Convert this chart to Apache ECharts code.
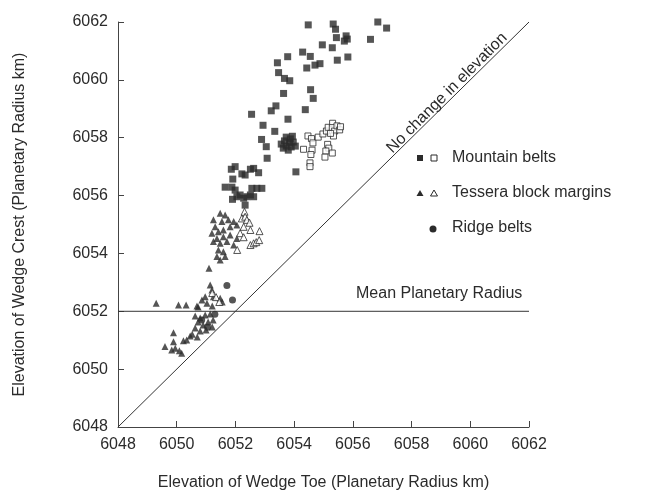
<!DOCTYPE html>
<html>
<head>
<meta charset="utf-8">
<script src="https://cdn.jsdelivr.net/npm/echarts@6/dist/echarts.min.js"></script>
<style>
  html, body { margin: 0; padding: 0; background: #fff; }
  #chart { width: 653px; height: 496px; }
</style>
</head>
<body>
<div id="chart"></div>
<script>
// axis ticks
var ticks = [6048, 6050, 6052, 6054, 6056, 6058, 6060, 6062];

// reference lines
var oneToOne = [[6048, 6048], [6062, 6062]];
var meanRadius = [[6048, 6052], [6062, 6052]];

// Mountain belts, filled squares [toe, crest]
var mountainFilled = [
    [6054.48, 6061.90], [6055.33, 6061.93], [6055.41, 6061.75], [6056.85, 6062.00],
    [6057.15, 6061.79], [6055.44, 6061.46], [6055.77, 6061.52], [6055.81, 6061.41],
    [6055.71, 6061.34], [6056.60, 6061.40], [6054.96, 6061.21], [6055.30, 6061.11],
    [6054.29, 6060.96], [6054.55, 6060.81], [6053.78, 6060.80], [6055.83, 6060.79],
    [6055.47, 6060.68], [6053.43, 6060.59], [6054.43, 6060.41], [6054.71, 6060.51],
    [6054.88, 6060.56], [6053.47, 6060.25], [6053.67, 6060.05], [6053.85, 6059.97],
    [6054.56, 6059.66], [6054.65, 6059.36], [6053.64, 6059.53], [6053.38, 6059.10],
    [6053.22, 6058.93], [6054.38, 6058.97], [6052.55, 6058.81], [6053.79, 6058.64],
    [6052.94, 6058.43], [6053.34, 6058.22], [6052.89, 6057.94], [6053.05, 6057.69],
    [6053.08, 6057.29], [6054.06, 6056.82],
    [6053.73, 6058.02], [6053.87, 6057.96], [6053.67, 6057.89], [6053.84, 6057.82],
    [6053.97, 6057.85], [6053.73, 6057.71], [6053.90, 6057.68], [6053.63, 6057.64],
    [6054.04, 6057.71], [6053.80, 6057.57], [6053.56, 6057.78], [6053.94, 6058.05],
    [6051.86, 6056.91], [6051.99, 6057.00], [6052.22, 6056.75], [6052.33, 6056.71],
    [6052.51, 6056.91], [6052.62, 6056.94], [6052.79, 6056.79], [6051.91, 6056.57],
    [6051.65, 6056.29], [6051.88, 6056.29], [6051.99, 6056.19], [6052.56, 6056.25],
    [6052.73, 6056.25], [6052.90, 6056.25], [6052.05, 6055.96], [6052.16, 6056.02],
    [6052.28, 6055.91], [6052.39, 6055.96], [6052.51, 6056.02], [6052.62, 6055.96],
    [6051.90, 6055.87], [6052.33, 6055.67]
];

// Mountain belts, open squares
var mountainOpen = [
    [6054.47, 6058.06], [6054.59, 6057.97], [6054.64, 6057.82], [6054.82, 6058.02],
    [6054.98, 6058.13], [6055.10, 6058.23], [6055.16, 6058.36], [6055.31, 6058.50],
    [6055.30, 6058.35], [6055.38, 6058.23], [6055.46, 6058.41], [6055.55, 6058.27],
    [6055.58, 6058.38], [6055.34, 6058.06], [6055.24, 6058.15], [6055.14, 6057.77],
    [6055.18, 6057.64], [6055.08, 6057.54], [6055.30, 6057.47], [6054.32, 6057.60],
    [6054.61, 6057.57], [6054.57, 6057.42], [6055.05, 6057.33], [6054.54, 6057.13],
    [6054.54, 6057.00]
];

// Tessera block margins, filled triangles
var tesseraFilled = [
    [6051.48, 6055.39], [6051.65, 6055.33], [6051.25, 6055.16], [6051.31, 6054.92],
    [6051.54, 6055.10], [6051.76, 6055.16], [6051.94, 6055.10], [6052.05, 6054.98],
    [6051.82, 6054.92], [6051.20, 6054.70], [6051.42, 6054.75], [6051.59, 6054.81],
    [6051.37, 6054.52], [6051.59, 6054.58], [6051.82, 6054.64], [6052.05, 6054.52],
    [6051.25, 6054.41], [6051.48, 6054.35], [6051.71, 6054.41], [6051.94, 6054.29],
    [6051.42, 6054.12], [6051.59, 6054.06], [6051.37, 6053.89], [6051.65, 6053.89],
    [6051.48, 6053.77], [6051.10, 6053.49], [6051.14, 6052.91], [6051.20, 6052.74],
    [6050.97, 6052.50], [6050.86, 6052.39], [6051.03, 6052.28], [6051.25, 6052.50],
    [6051.48, 6052.45], [6051.55, 6052.32], [6050.73, 6052.15], [6051.21, 6052.18],
    [6049.30, 6052.28], [6050.06, 6052.22], [6050.32, 6052.22], [6050.69, 6052.18],
    [6050.63, 6051.84], [6050.80, 6051.77], [6050.97, 6051.87], [6051.14, 6051.91],
    [6050.73, 6051.63], [6050.90, 6051.53], [6051.07, 6051.63], [6051.24, 6051.70],
    [6050.63, 6051.42], [6050.80, 6051.32], [6051.00, 6051.35], [6051.21, 6051.46],
    [6050.53, 6051.21], [6050.70, 6051.11], [6050.46, 6051.15], [6050.34, 6051.01],
    [6050.23, 6050.98], [6049.89, 6050.95], [6049.83, 6050.66], [6049.60, 6050.78],
    [6049.95, 6050.72], [6050.09, 6050.64], [6050.17, 6050.55], [6049.89, 6051.26]
];

// Tessera block margins, open triangles
var tesseraOpen = [
    [6052.31, 6055.44], [6052.22, 6055.21], [6052.33, 6055.27], [6052.39, 6055.16],
    [6052.48, 6055.06], [6052.28, 6054.92], [6052.51, 6054.81], [6052.82, 6054.77],
    [6052.16, 6054.70], [6052.28, 6054.56], [6052.51, 6054.29], [6052.62, 6054.35],
    [6052.71, 6054.39], [6052.81, 6054.46], [6052.06, 6054.12], [6051.21, 6052.63],
    [6051.34, 6052.49], [6051.45, 6052.32]
];

// Ridge belts, filled circles
var ridge = [
    [6051.71, 6052.89], [6051.90, 6052.39], [6050.85, 6051.70], [6051.05, 6051.45],
    [6051.30, 6051.90]
];

var ink = '#2b2b2b';
var font = 'Liberation Sans, Arial, Helvetica, sans-serif';

var myChart = echarts.init(document.getElementById('chart'));

function axis(name, gap) {
    return {
        type: 'value',
        min: ticks[0],
        max: ticks[ticks.length - 1],
        interval: 2,
        name: name,
        nameLocation: 'middle',
        nameGap: gap,
        nameTextStyle: { color: ink, fontSize: 16, fontFamily: font },
        axisLine: { show: true, lineStyle: { color: '#444', width: 1 } },
        axisTick: { show: true, inside: true, length: 6, lineStyle: { color: '#444' } },
        axisLabel: {
            color: ink, fontSize: 16, fontFamily: font, margin: 10,
            formatter: function (v) { return String(v); }
        },
        splitLine: { show: false }
    };
}

var option = {
    backgroundColor: '#fff',
    animation: false,
    grid: { left: 118, right: 124, top: 22, bottom: 69 },
    xAxis: axis('Elevation of Wedge Toe (Planetary Radius km)', 48),
    yAxis: axis('Elevation of Wedge Crest (Planetary Radius km)', 90),
    series: [
        {
            type: 'line', data: oneToOne, symbol: 'none', silent: true,
            lineStyle: { color: '#333', width: 1 }, z: 1
        },
        {
            type: 'line', data: meanRadius, symbol: 'none', silent: true,
            lineStyle: { color: '#333', width: 1 }, z: 1
        },
        {
            name: 'Mountain belts', type: 'scatter', data: mountainFilled,
            symbol: 'rect', symbolSize: 7, itemStyle: { color: ink }
        },
        {
            name: 'Mountain belts (open)', type: 'scatter', data: mountainOpen,
            symbol: 'rect', symbolSize: 6,
            itemStyle: { color: '#fff', borderColor: ink, borderWidth: 1 }
        },
        {
            name: 'Tessera block margins', type: 'scatter', data: tesseraFilled,
            symbol: 'triangle', symbolSize: 7, itemStyle: { color: ink }
        },
        {
            name: 'Tessera block margins (open)', type: 'scatter', data: tesseraOpen,
            symbol: 'triangle', symbolSize: 7,
            itemStyle: { color: '#fff', borderColor: ink, borderWidth: 1 }
        },
        {
            name: 'Ridge belts', type: 'scatter', data: ridge,
            symbol: 'circle', symbolSize: 7, itemStyle: { color: ink }
        }
    ],
    graphic: [
        // line labels
        {
            type: 'text', x: 447, y: 93, rotation: Math.PI / 4,
            style: { text: 'No change in elevation', fill: ink, font: '16px ' + font,
                     textAlign: 'center', textVerticalAlign: 'middle' }
        },
        {
            type: 'text', x: 356, y: 294,
            style: { text: 'Mean Planetary Radius', fill: ink, font: '16px ' + font,
                     textVerticalAlign: 'middle' }
        },
        // legend
        { type: 'rect', shape: { x: 417, y: 155, width: 6, height: 6 }, style: { fill: ink } },
        { type: 'rect', shape: { x: 431, y: 155, width: 6, height: 6 }, style: { fill: '#fff', stroke: ink, lineWidth: 1 } },
        { type: 'text', x: 452, y: 158, style: { text: 'Mountain belts', fill: ink, font: '16px ' + font, textVerticalAlign: 'middle' } },
        { type: 'polygon', shape: { points: [[420, 190], [423.5, 196], [416.5, 196]] }, style: { fill: ink } },
        { type: 'polygon', shape: { points: [[434, 190], [437.5, 196], [430.5, 196]] }, style: { fill: '#fff', stroke: ink, lineWidth: 1 } },
        { type: 'text', x: 452, y: 193, style: { text: 'Tessera block margins', fill: ink, font: '16px ' + font, textVerticalAlign: 'middle' } },
        { type: 'circle', shape: { cx: 433, cy: 229, r: 3.5 }, style: { fill: ink } },
        { type: 'text', x: 452, y: 228, style: { text: 'Ridge belts', fill: ink, font: '16px ' + font, textVerticalAlign: 'middle' } }
    ]
};

myChart.setOption(option);
</script>
</body>
</html>
